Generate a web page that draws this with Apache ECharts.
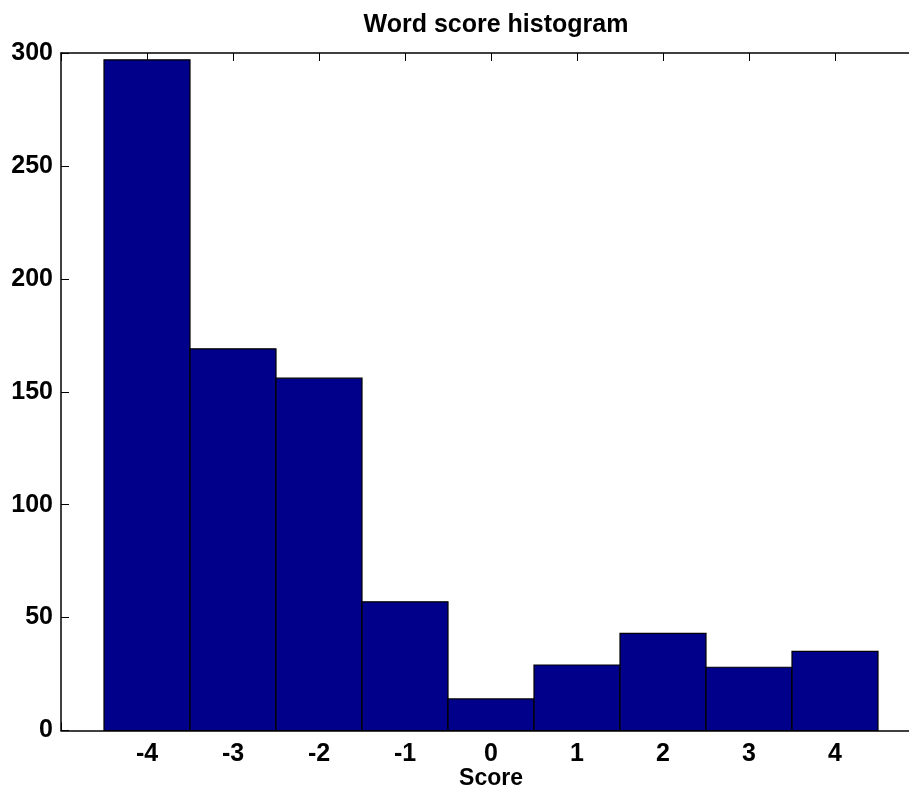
<!DOCTYPE html>
<html>
<head>
<meta charset="utf-8">
<script src="https://cdn.jsdelivr.net/npm/echarts@6/dist/echarts.min.js"></script>
<style>
html,body{margin:0;padding:0;background:#fff;}
#chart{width:909px;height:794px;}
</style>
</head>
<body>
<div id="chart"></div>
<script>
var titleText = 'Word score histogram';
var xName = 'Score';
var scores = [-4, -3, -2, -1, 0, 1, 2, 3, 4];
var counts = [297, 169, 156, 57, 14, 29, 43, 28, 35];
var yTicks = [0, 50, 100, 150, 200, 250, 300];

var data = scores.map(function (s, i) { return [s, counts[i]]; });
var FONT = 'Liberation Sans, Arial, sans-serif';

var chart = echarts.init(document.getElementById('chart'), null, {renderer: 'canvas'});
chart.setOption({
  backgroundColor: '#fff',
  animation: false,
  title: {
    text: titleText,
    left: 491, top: 8, textAlign: 'center',
    textStyle: {fontFamily: FONT, fontSize: 25, fontWeight: 'bold', color: '#000'}
  },
  grid: {left: 61, right: -12, top: 53, bottom: 63.5, containLabel: false, outerBoundsMode: 'none'},
  xAxis: [{
    type: 'value', min: -5, max: 5, interval: 1, position: 'bottom',
    name: xName, nameLocation: 'middle', nameGap: 37, nameMoveOverlap: false,
    nameTextStyle: {fontFamily: FONT, fontSize: 23, fontWeight: 'bold', color: '#000'},
    axisLine: {show: true, onZero: false, lineStyle: {color: '#000', width: 1.5}},
    axisTick: {show: true, inside: true, length: 8, lineStyle: {color: '#000'}},
    axisLabel: {
      fontFamily: FONT, fontSize: 25, fontWeight: 'bold', color: '#000', margin: 11,
      formatter: function (v) { return scores.indexOf(v) >= 0 ? String(v) : ''; }
    },
    splitLine: {show: false}
  }, {
    type: 'value', min: -5, max: 5, interval: 1, position: 'top',
    axisLine: {show: true, onZero: false, lineStyle: {color: '#000', width: 1.5}},
    axisTick: {show: true, inside: true, length: 8, lineStyle: {color: '#000'}},
    axisLabel: {show: false},
    splitLine: {show: false}
  }],
  yAxis: [{
    type: 'value', min: 0, max: 300, interval: 50, position: 'left',
    axisLine: {show: true, onZero: false, lineStyle: {color: '#000', width: 1.5}},
    axisTick: {show: true, inside: true, length: 8, lineStyle: {color: '#000'}},
    axisLabel: {fontFamily: FONT, fontSize: 25, fontWeight: 'bold', color: '#000', margin: 8,
      formatter: function (v) { return yTicks.indexOf(v) >= 0 ? String(v) : ''; }},
    splitLine: {show: false}
  }],
  series: [{
    type: 'custom',
    xAxisIndex: 0, yAxisIndex: 0,
    data: data,
    z: 5,
    renderItem: function (params, api) {
      var x = api.value(0), y = api.value(1);
      var p0 = api.coord([x - 0.5, 0]);
      var p1 = api.coord([x + 0.5, y]);
      return {
        type: 'rect',
        shape: {x: p0[0], y: p1[1], width: p1[0] - p0[0], height: p0[1] - p1[1]},
        style: {fill: '#00008B', stroke: '#000', lineWidth: 1.2}
      };
    }
  }]
});
</script>
</body>
</html>
